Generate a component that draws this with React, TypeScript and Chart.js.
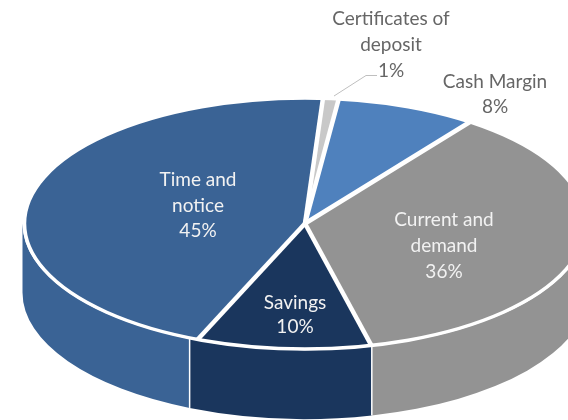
import React, { useEffect, useRef } from "react";
import { Chart, registerables } from "chart.js";

Chart.register(...registerables);

const categories = ["Time and notice", "Certificates of deposit", "Cash Margin", "Current and demand", "Savings"];
const values = [44.77, 0.9, 8.08, 36.2, 10.05];
const labelLines = [["Time and", "notice"], ["Certificates of", "deposit"], ["Cash Margin"], ["Current and", "demand"], ["Savings"]];
const sliceColors = ["#3A6395", "#C8C8C8", "#4F81BD", "#939393", "#1A365D"];
const labelColors = ["#F2F2F2", "#666666", "#666666", "#F2F2F2", "#F2F2F2"];
const labelAnchors = [[198, 180], [391, 19], [495, 82], [444, 220], [295, 302.5]];
const lineSteps = [25.5, 26, 25, 26, 24.5];

const CX = 305, CY = 223.5, RX = 280.5, RY = 125.5, WALL_RX = 282.5, WALL_RY = 126.5, DEPTH = 69;
const WALL_SKEW = 0.028;
const FONT = "19px Lato";

const wallAngle = (a: number) => {
  const isLowerLeft = Math.cos(a) < 0 && Math.sin(a) > 0;
  return isLowerLeft ? a + WALL_SKEW : a;
};

const pie3d = {
  id: "pie3d",
  beforeDatasetsDraw(chart: any) {
    const ctx = chart.ctx as CanvasRenderingContext2D;
    const arcs = chart.getDatasetMeta(0).data;
    const P = Math.PI;
    arcs.forEach((arc: any, i: number) => {
      for (const k of [0, 2]) {
        const a = Math.max(wallAngle(arc.startAngle), k * P);
        const b = Math.min(wallAngle(arc.endAngle), k * P + P);
        if (b <= a) continue;
        ctx.beginPath();
        ctx.ellipse(CX, CY, WALL_RX, WALL_RY, 0, a, b);
        ctx.ellipse(CX, CY + DEPTH, WALL_RX, WALL_RY, 0, b, a, true);
        ctx.closePath();
        ctx.fillStyle = sliceColors[i];
        ctx.fill();
      }
    });
    arcs.forEach((arc: any) => {
      const w = wallAngle(arc.startAngle);
      const s = Math.sin(w);
      if (s <= 0) return;
      const x = CX + WALL_RX * Math.cos(w);
      const y = CY + WALL_RY * s;
      ctx.beginPath();
      ctx.moveTo(x, y);
      ctx.lineTo(x, y + DEPTH);
      ctx.strokeStyle = "#FFFFFF";
      ctx.lineWidth = 1.5;
      ctx.stroke();
    });
    const el = arcs[0];
    ctx.save();
    ctx.translate(CX, CY);
    ctx.scale(RX / el.outerRadius, RY / el.outerRadius);
    ctx.translate(-el.x, -el.y);
  },
  afterDatasetsDraw(chart: any) {
    const ctx = chart.ctx as CanvasRenderingContext2D;
    ctx.restore();
    const arcs = chart.getDatasetMeta(0).data;
    ctx.strokeStyle = "#FFFFFF";
    ctx.lineWidth = 4.5;
    ctx.lineCap = "butt";
    arcs.forEach((arc: any) => {
      ctx.beginPath();
      ctx.moveTo(CX, CY);
      ctx.lineTo(CX + RX * Math.cos(arc.startAngle), CY + RY * Math.sin(arc.startAngle));
      ctx.stroke();
    });
    ctx.lineWidth = 3.5;
    ctx.beginPath();
    ctx.ellipse(CX, CY, RX, RY, 0, 0, 2 * Math.PI);
    ctx.stroke();

    ctx.strokeStyle = "#BFBFBF";
    ctx.lineWidth = 1;
    ctx.beginPath();
    ctx.moveTo(377, 75.5);
    ctx.lineTo(366, 75.5);
    ctx.lineTo(334, 96);
    ctx.stroke();

    ctx.font = FONT;
    ctx.textAlign = "center";
    ctx.textBaseline = "middle";
    categories.forEach((_, i) => {
      const lines = [...labelLines[i], `${Math.round(values[i])}%`];
      ctx.fillStyle = labelColors[i];
      lines.forEach((t, j) => ctx.fillText(t, labelAnchors[i][0], labelAnchors[i][1] + j * lineSteps[i]));
    });
  },
};

export default function App() {
  const ref = useRef<HTMLCanvasElement>(null);
  useEffect(() => {
    const chart = new Chart(ref.current!, {
      type: "pie",
      data: {
        labels: categories,
        datasets: [{ data: values, backgroundColor: sliceColors, borderWidth: 0, clip: false } as any],
      },
      options: {
        responsive: false,
        animation: false,
        rotation: 202.5,
        layout: { padding: 0 },
        plugins: { legend: { display: false }, tooltip: { enabled: false } },
      },
      plugins: [pie3d as any],
    });
    return () => chart.destroy();
  }, []);
  return (
    <canvas
      ref={ref}
      width={568}
      height={420}
      style={{ position: "absolute", left: 0, top: 0, width: 568, height: 420 }}
    />
  );
}
